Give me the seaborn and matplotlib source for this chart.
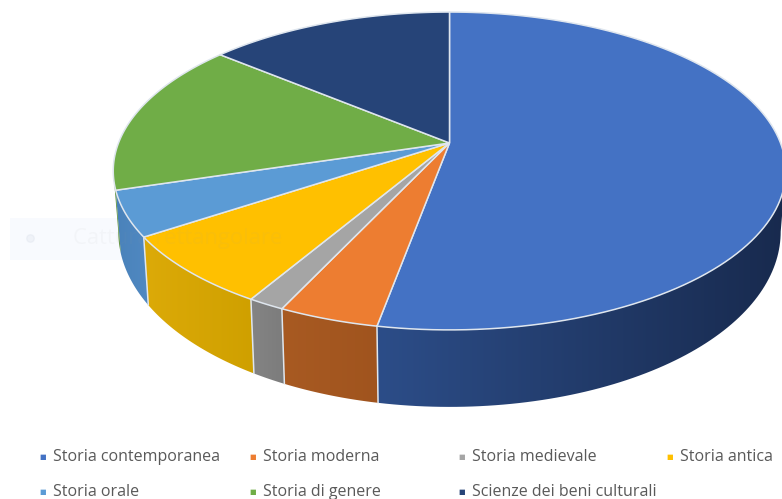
import numpy as np
import seaborn as sns
import matplotlib.pyplot as plt
from matplotlib.patches import Polygon, Rectangle
from matplotlib.colors import to_rgb

# Data
categories = ['Storia contemporanea', 'Storia moderna', 'Storia medievale', 'Storia antica',
              'Storia orale', 'Storia di genere', 'Scienze dei beni culturali']
values = [52.9, 4.1, 1.5, 7.2, 4.6, 15.7, 14.0]
colors = ['#4472c4', '#ed7d31', '#a5a5a5', '#ffc000', '#5b9bd5', '#70ad47', '#264478']
# side wall shades, left to right
side_left = ['#2c4d88', '#a85a22', '#848484', '#dcaa08', '#4a82ba', '#5a8f38', '#1c3358']
side_right = ['#182a4e', '#a0541e', '#7c7c7c', '#cfa000', '#5089c2', '#5a8f38', '#1c3358']

sns.set_theme(style='white')
plt.rcParams['font.family'] = ['Open Sans', 'DejaVu Sans']
palette = sns.color_palette(colors)

W, H = 782, 499
cx, cy = 449.5, 143       # pie apex in the picture
a, b, k = 331, 154, 0.176  # perspective of the tilted disc


def top_rim(t):
    w = 1 + k * np.sin(t)
    return a * np.cos(t) / w, b * np.sin(t) / w


def bottom_rim(t):
    x, y = top_rim(t)
    # wall looks taller at the near edge
    return x * 0.985, y - (77 - 20 * (1 + np.sin(t)))


fig = plt.figure(figsize=(W / 100, H / 100), dpi=100)
ax = fig.add_axes([0, 0, 1, 1])
rim = '#dfe6ee'

# pie gives the slice angles, the slices are then redrawn in perspective
wedges, _ = ax.pie(values, colors=palette, startangle=90, counterclock=False)
ax.set_aspect('auto')

# pale screenshot leftover behind the pie
ax.add_patch(Rectangle((10 - cx, cy - 260), 280, 42, facecolor='#f8fafe', edgecolor='none', zorder=0))

limit = np.degrees(np.arcsin(k))  # where the wall disappears behind the disc
for w, col, cl, cr in zip(wedges, palette, side_left, side_right):
    w.set_visible(False)
    a1, a2 = w.theta1 % 360, w.theta2 % 360
    if a2 <= a1:
        a2 += 360

    t = np.radians(np.linspace(a1, a2, 120))
    xs, ys = top_rim(t)
    ax.add_patch(Polygon(np.r_[[[0, 0]], np.c_[xs, ys]], closed=True, facecolor=col,
                         edgecolor=rim, linewidth=1.1, zorder=5))

    lo, hi = max(a1, 180 + limit), min(a2, 360 - limit)
    if hi <= lo:
        continue
    t = np.radians(np.linspace(lo, hi, 80))
    xs, ys = top_rim(t)
    xb, yb = bottom_rim(t)
    poly = Polygon(np.r_[np.c_[xs, ys], np.c_[xb, yb][::-1]], closed=True, facecolor='none',
                   edgecolor='none', zorder=2)
    ax.add_patch(poly)
    grad = np.linspace(to_rgb(cl), to_rgb(cr), 128)[None, :, :]
    im = ax.imshow(grad, extent=(min(xs.min(), xb.min()), max(xs.max(), xb.max()), yb.min(), ys.max()),
                   aspect='auto', zorder=1.5, interpolation='bilinear')
    im.set_clip_path(poly)
    # light seam on the wall between slices
    if lo > 200:
        ax.plot([xs[0], xb[0]], [ys[0], yb[0]], color=rim, lw=1.1, zorder=3)

ax.set_xlim(-cx, W - cx)
ax.set_ylim(-(H - cy), cy)
ax.set_axis_off()

# leftover caption, almost invisible
ax.text(73 - cx, cy - 238, 'Cattura rettangolare', fontsize=15.8, color='#a0a0a0',
        alpha=0.06, va='center', zorder=8)
ax.scatter([30 - cx], [cy - 238], s=30, color='#c0c8d8', alpha=0.15, zorder=8)

# legend, laid out as in the picture
legend_x = [43, 253, 462, 670, 43, 253, 462]
legend_y = [457, 457, 457, 457, 492, 492, 492]
for name, col, lx, ly in zip(categories, palette, legend_x, legend_y):
    fig.text(lx / W, 1 - ly / H, '■', fontsize=5, color=col, ha='center', va='center',
             family=['DejaVu Sans'])
    fig.text((lx + 10) / W, 1 - (ly + 4) / H, name, fontsize=11.5, color='#595959', va='baseline')

fig.savefig('out.png', dpi=100)
